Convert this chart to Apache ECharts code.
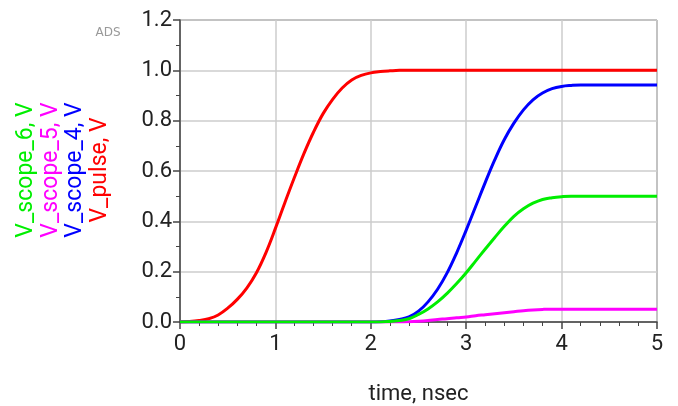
<!DOCTYPE html>
<html>
<head>
<meta charset="utf-8">
<script src="https://cdn.jsdelivr.net/npm/echarts@6/dist/echarts.min.js"></script>
<style>
  html, body { margin: 0; padding: 0; background: #fff; }
  #chart { width: 678px; height: 406px; }
</style>
</head>
<body>
<div id="chart"></div>
<script>
  // time axis, nsec
  const timeNs = [
    0, 0.1, 0.2, 0.3, 0.4, 0.5, 0.6, 0.7, 0.8, 0.9,
    1.0, 1.1, 1.2, 1.3, 1.4, 1.5, 1.6, 1.7, 1.8, 1.9,
    2.0, 2.1, 2.2, 2.3, 2.4, 2.5, 2.6, 2.7, 2.8, 2.9,
    3.0, 3.1, 3.2, 3.3, 3.4, 3.5, 3.6, 3.7, 3.8, 3.9,
    4.0, 4.1, 4.2, 4.3, 4.4, 4.5, 4.6, 4.7, 4.8, 4.9, 5.0
  ]
  const vPulse = [
    0, 0.002, 0.006, 0.013, 0.028, 0.055, 0.09, 0.135, 0.195, 0.275,
    0.372, 0.475, 0.575, 0.67, 0.755, 0.828, 0.885, 0.93, 0.962, 0.98,
    0.99, 0.995, 0.998, 1, 1, 1, 1, 1, 1, 1,
    1, 1, 1, 1, 1, 1, 1, 1, 1, 1,
    1, 1, 1, 1, 1, 1, 1, 1, 1, 1, 1
  ]
  const vScope4 = [
    0, 0, 0, 0, 0, 0, 0, 0, 0, 0,
    0, 0, 0, 0, 0, 0, 0, 0, 0, 0,
    0, 0.001, 0.004, 0.01, 0.02, 0.043, 0.08, 0.13, 0.195, 0.275,
    0.365, 0.46, 0.555, 0.645, 0.725, 0.79, 0.843, 0.883, 0.91, 0.927,
    0.936, 0.94, 0.942, 0.942, 0.942, 0.942, 0.942, 0.942, 0.942, 0.942, 0.942
  ]
  const vScope5 = [
    0, 0, 0, 0, 0, 0, 0, 0, 0, 0,
    0, 0, 0, 0, 0, 0, 0, 0, 0, 0,
    0, 0, 0, 0, 0.001, 0.003, 0.006, 0.01, 0.013, 0.017,
    0.02, 0.025, 0.029, 0.033, 0.037, 0.041, 0.045, 0.048, 0.05, 0.051,
    0.051, 0.051, 0.051, 0.051, 0.051, 0.051, 0.051, 0.051, 0.051, 0.051, 0.051
  ]
  const vScope6 = [
    0, 0, 0, 0, 0, 0, 0, 0, 0, 0,
    0, 0, 0, 0, 0, 0, 0, 0, 0, 0,
    0, 0, 0.002, 0.006, 0.013, 0.03, 0.052, 0.08, 0.114, 0.153,
    0.196, 0.243, 0.29, 0.336, 0.38, 0.42, 0.45, 0.472, 0.487, 0.494,
    0.498, 0.5, 0.5, 0.5, 0.5, 0.5, 0.5, 0.5, 0.5, 0.5, 0.5
  ]
  const seriesNames = ['V_pulse, V', 'V_scope_4, V', 'V_scope_5, V', 'V_scope_6, V']
  const seriesColors = ['#ff0000', '#0000ff', '#ff00ff', '#00ee00']

  const font = 'Roboto, "Liberation Sans", sans-serif'
  const pairs = vals => timeNs.map((t, i) => [t, vals[i]])

  const chart = echarts.init(document.getElementById('chart'), null, { renderer: 'canvas' })

  // rotated legend on the left, like the ADS plot
  const legendX = [100, 75, 51, 26]
  const legendText = seriesNames.map((name, i) => ({
    type: 'text',
    x: legendX[i],
    y: 170,
    rotation: Math.PI / 2,
    style: {
      text: name,
      fill: seriesColors[i],
      font: '23px ' + font,
      align: 'center',
      verticalAlign: 'middle'
    }
  }))

  chart.setOption({
    animation: false,
    grid: {
      left: 180,
      right: 21,
      top: 20,
      bottom: 84,
      outerBoundsMode: 'none',
      show: true,
      borderColor: '#555',
      borderWidth: 1
    },
    xAxis: {
      type: 'value',
      min: 0,
      max: 5,
      interval: 1,
      name: 'time, nsec',
      nameLocation: 'middle',
      nameGap: 61,
      nameTextStyle: { fontFamily: font, fontSize: 22, color: '#222' },
      axisLine: { lineStyle: { color: '#444', width: 1.5 } },
      axisTick: { length: 7, lineStyle: { color: '#444', width: 1.5 } },
      minorTick: { show: true, splitNumber: 5, length: 4, lineStyle: { color: '#444' } },
      axisLabel: { fontFamily: font, fontSize: 22, color: '#222', margin: 11 },
      splitLine: { lineStyle: { color: '#cccccc', width: 1.5 } }
    },
    yAxis: {
      type: 'value',
      min: 0,
      max: 1.2,
      interval: 0.2,
      axisLine: { show: true, lineStyle: { color: '#444', width: 1.5 } },
      axisTick: { show: true, length: 7, lineStyle: { color: '#444', width: 1.5 } },
      minorTick: { show: true, splitNumber: 2, length: 4, lineStyle: { color: '#444' } },
      axisLabel: {
        fontFamily: font, fontSize: 22, color: '#222', margin: 8,
        formatter: v => v.toFixed(1)
      },
      splitLine: { lineStyle: { color: '#cccccc', width: 1.5 } }
    },
    graphic: legendText.concat([{
      type: 'text',
      x: 108,
      y: 33,
      style: {
        text: 'ADS',
        fill: '#999',
        font: '12px "Liberation Sans Narrow", "DejaVu Sans", sans-serif',
        align: 'center',
        verticalAlign: 'middle'
      }
    }]),
    series: [vPulse, vScope4, vScope5, vScope6].map((vals, i) => ({
      name: seriesNames[i],
      type: 'line',
      data: pairs(vals),
      showSymbol: false,
      smooth: 0.4,
      lineStyle: { color: seriesColors[i], width: 3 },
      itemStyle: { color: seriesColors[i] }
    }))
  })
</script>
</body>
</html>
